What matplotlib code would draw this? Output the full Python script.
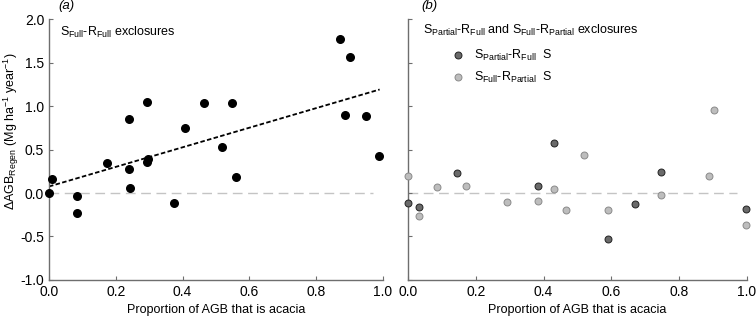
import numpy as np
import matplotlib.pyplot as plt

plt.rcParams['font.family'] = ['Liberation Sans', 'DejaVu Sans']
plt.rcParams['mathtext.fontset'] = 'custom'
plt.rcParams['mathtext.rm'] = 'Liberation Sans'
plt.rcParams['mathtext.it'] = 'Liberation Sans:italic'
plt.rcParams['font.size'] = 8.5

# panel (a): S_Full-R_Full exclosures
a_x = [0.0, 0.01, 0.084, 0.085, 0.173, 0.24, 0.24, 0.243, 0.292, 0.293, 0.295,
       0.375, 0.408, 0.464, 0.518, 0.548, 0.561, 0.871, 0.886, 0.902, 0.950, 0.989]
a_y = [0.0, 0.16, -0.04, -0.23, 0.34, 0.28, 0.85, 0.054, 1.05, 0.356, 0.387,
       -0.12, 0.75, 1.035, 0.53, 1.03, 0.18, 1.775, 0.90, 1.56, 0.885, 0.42]
fit_x = [0.0, 0.99]
fit_y = [0.075, 1.19]

# panel (b)
spr_x = [0.0, 0.031, 0.145, 0.384, 0.430, 0.591, 0.670, 0.745, 0.997]
spr_y = [-0.11, -0.165, 0.226, 0.085, 0.571, -0.53, -0.13, 0.245, -0.18]
sfp_x = [0.0, 0.031, 0.086, 0.172, 0.293, 0.384, 0.432, 0.465, 0.520, 0.591,
         0.745, 0.888, 0.904, 0.997]
sfp_y = [0.19, -0.27, 0.07, 0.085, -0.10, -0.09, 0.046, -0.20, 0.44, -0.20,
         -0.02, 0.20, 0.95, -0.37]

fig = plt.figure(figsize=(7.56, 3.19), dpi=100)
ax1 = fig.add_axes([0.0648, 0.1223, 0.4418, 0.818])
ax2 = fig.add_axes([0.5397, 0.1223, 0.4483, 0.818])

for ax in (ax1, ax2):
    ax.set_xlim(0, 1)
    ax.set_ylim(-1, 2)
    ax.set_xticks([0, 0.2, 0.4, 0.6, 0.8, 1.0])
    ax.set_yticks([-1, -0.5, 0, 0.5, 1.0, 1.5, 2.0])
    ax.xaxis.set_major_formatter(plt.FormatStrFormatter('%.1f'))
    ax.yaxis.set_major_formatter(plt.FormatStrFormatter('%.1f'))
    for s in ('top', 'right'):
        ax.spines[s].set_visible(False)
    for s in ('left', 'bottom'):
        ax.spines[s].set_color('#6e6e6e')
        ax.spines[s].set_linewidth(1.0)
    ax.tick_params(direction='in', length=3, color='#6e6e6e', labelsize=10)
    ax.plot([0, 0.97], [0, 0], color='#c4c4c4', lw=1.0, dashes=(7, 4), zorder=1)
    ax.set_xlabel('Proportion of AGB that is acacia', fontsize=9)

ax1.scatter(a_x, a_y, s=30, color='black', zorder=3, clip_on=False)
ax1.plot(fit_x, fit_y, color='black', lw=1.3, dashes=(2.5, 1.3), zorder=2)
ax1.set_ylabel(r'$\Delta$AGB$_{\mathrm{Regen}}$ (Mg ha$^{-1}$ year$^{-1}$)', fontsize=9)
ax1.yaxis.set_label_coords(-0.085, 0.57)
ax1.text(0.033, 1.93, r'S$_{\mathrm{Full}}$-R$_{\mathrm{Full}}$ exclosures',
         fontsize=9, va='top')
ax1.text(0.027, 2.08, '(a)', style='italic', fontsize=9.5, va='bottom')

ax2.scatter(spr_x, spr_y, s=25, color='#6a6a6a', edgecolor='#222222', lw=0.7,
            zorder=3, clip_on=False, label=r'S$_{\mathrm{Partial}}$-R$_{\mathrm{Full}}$  S')
ax2.scatter(sfp_x, sfp_y, s=25, color='#bdbdbd', edgecolor='#8a8a8a', lw=0.7,
            zorder=3, clip_on=False, label=r'S$_{\mathrm{Full}}$-R$_{\mathrm{Partial}}$  S')
ax2.tick_params(labelleft=False)
ax2.text(0.045, 1.95, r'S$_{\mathrm{Partial}}$-R$_{\mathrm{Full}}$ and S$_{\mathrm{Full}}$-R$_{\mathrm{Partial}}$ exclosures',
         fontsize=9, va='top')
ax2.text(0.04, 2.08, '(b)', style='italic', fontsize=9.5, va='bottom')
ax2.legend(loc='upper left', bbox_to_anchor=(0.095, 0.91), frameon=False,
           fontsize=9, handletextpad=0.3, labelspacing=0.55, borderaxespad=0)

fig.savefig('out.png', dpi=100)
